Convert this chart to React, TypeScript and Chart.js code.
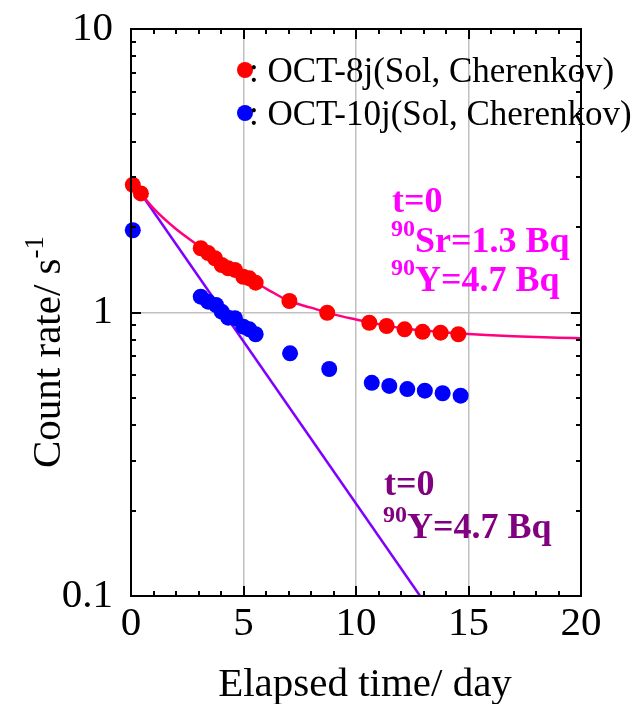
import { useEffect, useRef } from "react";
import { Chart, registerables } from "chart.js";

Chart.register(...registerables);

const SERIF = '"Liberation Serif", "Times New Roman", Times, serif';

// OCT-8j (solution, Cherenkov) count rates
const oct8Days = [0.08, 0.44, 3.1, 3.43, 3.73, 4.03, 4.32, 4.62, 4.99, 5.26, 5.54, 7.04, 8.72, 10.59, 11.36, 12.16, 12.96, 13.76, 14.55];
const oct8Rate = [2.82, 2.63, 1.685, 1.62, 1.554, 1.471, 1.432, 1.413, 1.337, 1.32, 1.274, 1.098, 0.998, 0.92, 0.896, 0.872, 0.855, 0.849, 0.838];

// OCT-10j (solution, Cherenkov) count rates
const oct10Days = [0.08, 3.1, 3.43, 3.78, 4.03, 4.32, 4.62, 4.99, 5.26, 5.54, 7.07, 8.81, 10.7, 11.48, 12.28, 13.06, 13.85, 14.65];
const oct10Rate = [1.95, 1.137, 1.092, 1.063, 1.007, 0.959, 0.955, 0.891, 0.872, 0.838, 0.718, 0.632, 0.565, 0.551, 0.537, 0.53, 0.519, 0.509];

// 90Sr + 90Y growth/decay curve (t=0: 90Sr 1.3 Bq, 90Y 4.7 Bq)
const srYDays = [0.44, 1, 2, 3, 4, 5, 6, 7, 8, 9, 10, 11, 12, 13, 14, 15, 16, 17, 18, 19, 20];
const srYRate = [2.63, 2.33, 1.97, 1.72, 1.49, 1.335, 1.215, 1.1, 1.04, 0.985, 0.945, 0.91, 0.882, 0.864, 0.85, 0.84, 0.832, 0.825, 0.82, 0.815, 0.811];

// pure 90Y decay line (t=0: 90Y 4.7 Bq)
const yDecayDays = [0.44, 12.85];
const yDecayRate = [2.63, 0.1];

const xTicks = [0, 5, 10, 15, 20];
const yTicks = [0.1, 1, 10];
const xGridDays = [5, 10, 15];
const yGridRates = [1];

const seriesNames = ["OCT-8j(Sol, Cherenkov)", "OCT-10j(Sol, Cherenkov)"];
const seriesColors = ["#ff0000", "#0000ff"];

const toPoints = (xs: number[], ys: number[]) => xs.map((x, i) => ({ x, y: ys[i] }));

const decorations = {
  id: "decorations",
  afterDatasetsDraw(chart: any) {
    const { ctx, chartArea, scales } = chart;
    const { left, right, top, bottom } = chartArea;
    const xs = scales.x;
    const ys = scales.y;
    ctx.save();
    ctx.strokeStyle = "#000";
    ctx.lineWidth = 2;
    ctx.strokeRect(left, top, right - left, bottom - top);

    const seg = (x1: number, y1: number, x2: number, y2: number) => {
      ctx.beginPath();
      ctx.moveTo(x1, y1);
      ctx.lineTo(x2, y2);
      ctx.stroke();
    };
    // inward ticks on all four sides
    for (let d = 0; d <= 20; d++) {
      const px = Math.round(xs.getPixelForValue(d));
      const len = d % 5 === 0 ? 10 : 5;
      seg(px, bottom, px, bottom - len);
      seg(px, top, px, top + len);
    }
    for (const dec of [0.1, 1]) {
      for (let m = 1; m <= 9; m++) {
        const py = Math.round(ys.getPixelForValue(dec * m));
        const len = m === 1 ? 10 : 5;
        seg(left, py, left + len, py);
        seg(right, py, right - len, py);
      }
    }
    ctx.restore();
  },
  afterDraw(chart: any) {
    const { ctx } = chart;
    ctx.save();
    ctx.textBaseline = "alphabetic";
    ctx.textAlign = "left";

    // legend
    const legendY = [70, 113];
    seriesNames.forEach((name, i) => {
      ctx.fillStyle = seriesColors[i];
      ctx.beginPath();
      ctx.arc(245, legendY[i], 8, 0, Math.PI * 2);
      ctx.fill();
      ctx.fillStyle = "#000";
      ctx.font = `35px ${SERIF}`;
      ctx.fillText(": " + name, 249, legendY[i] + 12);
    });

    const iso = (x: number, base: number, sup: string, main: string, color: string) => {
      ctx.fillStyle = color;
      ctx.font = `bold 24px ${SERIF}`;
      ctx.fillText(sup, x, base - 16);
      const w = ctx.measureText(sup).width;
      ctx.font = `bold 36px ${SERIF}`;
      ctx.fillText(main, x + w, base);
    };

    // 90Sr + 90Y annotation
    ctx.fillStyle = "#ff00ff";
    ctx.font = `bold 36px ${SERIF}`;
    ctx.fillText("t=0", 392, 212);
    iso(391, 252, "90", "Sr=1.3 Bq", "#ff00ff");
    iso(391, 291, "90", "Y=4.7 Bq", "#ff00ff");

    // 90Y annotation
    ctx.fillStyle = "#800080";
    ctx.font = `bold 36px ${SERIF}`;
    ctx.fillText("t=0", 384, 495);
    iso(383, 538, "90", "Y=4.7 Bq", "#800080");

    // axis titles
    ctx.fillStyle = "#000";
    ctx.font = `41px ${SERIF}`;
    ctx.textAlign = "center";
    ctx.fillText("Elapsed time/ day", 365, 696);

    ctx.textAlign = "left";
    ctx.font = `41px ${SERIF}`;
    const mainT = "Count rate/ s";
    const supT = "-1";
    const wMain = ctx.measureText(mainT).width;
    ctx.font = `27px ${SERIF}`;
    const wSup = ctx.measureText(supT).width;
    const total = wMain + wSup;
    ctx.translate(60, 352);
    ctx.rotate(-Math.PI / 2);
    ctx.font = `41px ${SERIF}`;
    ctx.fillText(mainT, -total / 2, 0);
    ctx.font = `27px ${SERIF}`;
    ctx.fillText(supT, -total / 2 + wMain, -17);
    ctx.restore();
  },
};

const noEdgePadding = (s: any) => {
  s.paddingTop = 0;
  s.paddingBottom = 0;
  s.paddingLeft = 0;
  s.paddingRight = 0;
};

export default function App() {
  const canvasRef = useRef<HTMLCanvasElement | null>(null);

  useEffect(() => {
    const canvas = canvasRef.current;
    if (!canvas) return;
    const chart = new Chart(canvas, {
      type: "scatter",
      data: {
        datasets: [
          {
            label: seriesNames[0],
            data: toPoints(oct8Days, oct8Rate),
            backgroundColor: seriesColors[0],
            borderWidth: 0,
            pointRadius: 8,
            showLine: false,
            clip: false,
            order: 0,
          },
          {
            label: seriesNames[1],
            data: toPoints(oct10Days, oct10Rate),
            backgroundColor: seriesColors[1],
            borderWidth: 0,
            pointRadius: 8,
            showLine: false,
            clip: false,
            order: 0,
          },
          {
            label: "90Sr+90Y",
            data: toPoints(srYDays, srYRate),
            borderColor: "#ff0080",
            borderWidth: 2.5,
            pointRadius: 0,
            showLine: true,
            cubicInterpolationMode: "monotone",
            order: 1,
          },
          {
            label: "90Y",
            data: toPoints(yDecayDays, yDecayRate),
            borderColor: "#8000ff",
            borderWidth: 2.5,
            pointRadius: 0,
            showLine: true,
            order: 1,
          },
        ],
      },
      options: {
        animation: false,
        responsive: false,
        devicePixelRatio: 1,
        events: [],
        layout: { padding: { top: 29, right: 61, bottom: 0, left: 0 } },
        plugins: { legend: { display: false }, tooltip: { enabled: false } },
        scales: {
          x: {
            type: "linear",
            min: 0,
            max: 20,
            afterBuildTicks: (s: any) => {
              s.ticks = xTicks.map((v) => ({ value: v }));
            },
            afterFit: (s: any) => {
              s.height = 108;
              noEdgePadding(s);
            },
            ticks: {
              font: { family: SERIF, size: 41 },
              color: "#000",
              padding: 4,
              maxRotation: 0,
              autoSkip: false,
            },
            grid: {
              color: (c: any) => (xGridDays.includes(c.tick?.value) ? "#c0c0c0" : "rgba(0,0,0,0)"),
              lineWidth: 1.5,
              drawTicks: false,
            },
            border: { display: false },
          },
          y: {
            type: "logarithmic",
            min: 0.1,
            max: 10,
            afterBuildTicks: (s: any) => {
              s.ticks = yTicks.map((v) => ({ value: v }));
            },
            afterFit: (s: any) => {
              s.width = 131;
              noEdgePadding(s);
            },
            ticks: {
              font: { family: SERIF, size: 41 },
              color: "#000",
              padding: 18,
              autoSkip: false,
              callback: (v: any) => String(v),
            },
            grid: {
              color: (c: any) => (yGridRates.includes(c.tick?.value) ? "#c0c0c0" : "rgba(0,0,0,0)"),
              lineWidth: 1.5,
              drawTicks: false,
            },
            border: { display: false },
          },
        },
      },
      plugins: [decorations],
    } as any);
    return () => chart.destroy();
  }, []);

  return (
    <div style={{ position: "absolute", left: 0, top: 0, width: 642, height: 704, background: "#fff" }}>
      <canvas ref={canvasRef} width={642} height={704} style={{ display: "block" }} />
    </div>
  );
}
